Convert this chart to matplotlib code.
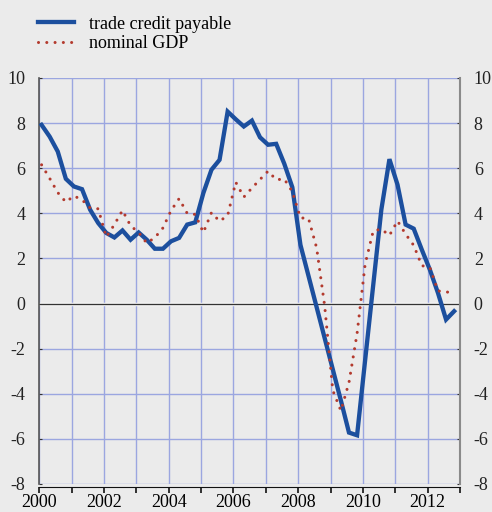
import numpy as np
import matplotlib.pyplot as plt
from matplotlib.ticker import MultipleLocator, FixedLocator

plt.rcParams['font.family'] = ['Liberation Serif', 'DejaVu Serif']
plt.rcParams['axes.unicode_minus'] = False

# quarterly observations 2000Q1 - 2012Q4
start_year = 2000
trade_credit = [7.92, 7.4, 6.74, 5.53, 5.19, 5.07, 4.16, 3.57, 3.13, 2.93,
                3.24, 2.83, 3.15, 2.83, 2.43, 2.43, 2.76, 2.91, 3.5, 3.6,
                4.9, 5.93, 6.37, 8.51, 8.17, 7.85, 8.11, 7.37, 7.04, 7.08,
                6.2, 5.15, 2.6, 1.22, -0.16, -1.54, -2.92, -4.3, -5.72, -5.84,
                -2.5, 0.83, 4.16, 6.4, 5.27, 3.5, 3.32, 2.39, 1.5, 0.47,
                -0.71, -0.34]
nominal_gdp = [6.15, 5.55, 4.92, 4.5, 4.77, 4.6, 4.24, 4.2, 2.95, 3.5,
               4.13, 3.45, 3.15, 2.68, 2.92, 3.35, 4.12, 4.65, 4.0, 3.95,
               3.15, 4.03, 3.65, 3.9, 5.38, 4.72, 5.12, 5.5, 5.87, 5.49,
               5.52, 4.96, 3.8, 3.77, 2.47, -0.12, -3.85, -4.75, -3.5, -1.33,
               1.75, 3.22, 3.3, 3.02, 3.66, 3.08, 2.58, 1.68, 1.6, 0.56,
               0.52, 0.45]
year_labels = ['2000', '', '2002', '', '2004', '', '2006', '', '2008', '',
               '2010', '', '2012', '']

t = start_year + 0.07 + np.arange(len(trade_credit)) / 4

bg = '#ebebeb'
fig = plt.figure(figsize=(4.92, 5.12), dpi=100, facecolor=bg)
ax = fig.add_axes([0.0799, 0.0547, 0.855, 0.793], facecolor=bg)

ax.plot(t, trade_credit, color='#1c4f9e', lw=3.1, solid_joinstyle='miter',
        label='trade credit payable', zorder=3)
ax.plot(t, nominal_gdp, color='#b33a2e', lw=2.2, linestyle=(0, (0.01, 2.7)),
        dash_capstyle='round', label='nominal GDP', zorder=4)

ax.set_xlim(2000, 2013)
ax.set_ylim(-8, 10)
ax.xaxis.set_major_locator(FixedLocator(range(2000, 2014)))
ax.set_xticklabels(year_labels)
ax.yaxis.set_major_locator(MultipleLocator(2))
ax.grid(True, color='#9ba6e0', lw=1.0, zorder=0)
ax.set_axisbelow(True)

ax.axhline(0, color='white', lw=2.5, zorder=1)
ax.axhline(0, color='#333333', lw=1.0, zorder=2)

ax.spines['top'].set_visible(False)
ax.spines['left'].set_color('#555555')
ax.spines['left'].set_linewidth(1.2)
ax.spines['right'].set_color('#8a8a8a')
ax.spines['right'].set_linewidth(1.5)
ax.spines['bottom'].set_color('#111111')
ax.spines['bottom'].set_position(('outward', 2))

ax.tick_params(axis='x', direction='out', length=4, width=1.2, color='#111111',
               labelsize=13, pad=1)
ax.tick_params(axis='y', which='both', left=True, right=True, labelleft=True,
               labelright=True, length=2, direction='in', color='#333333',
               labelsize=13, pad=10)
for lab in ax.get_yticklabels():
    lab.set_color('#222222')

ax.legend(loc='upper left', bbox_to_anchor=(0.052, 0.994), bbox_transform=fig.transFigure,
          frameon=False, fontsize=13, handlelength=2.0, handletextpad=0.8,
          labelspacing=0.15, borderaxespad=0.3)

fig.savefig('out.png', dpi=100, facecolor=bg)
